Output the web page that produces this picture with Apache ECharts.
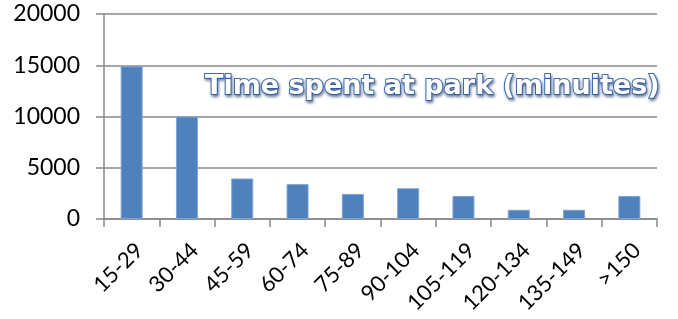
<!DOCTYPE html>
<html>
<head>
<meta charset="utf-8">
<script src="https://cdn.jsdelivr.net/npm/echarts@6/dist/echarts.min.js"></script>
<style>
  html, body { margin: 0; padding: 0; background: #fff; }
  #chart { width: 678px; height: 319px; }
</style>
</head>
<body>
<div id="chart"></div>
<script>
  // minutes spent at the park, grouped
  var categories = ['15-29', '30-44', '45-59', '60-74', '75-89', '90-104', '105-119', '120-134', '135-149', '>150'];
  var visitors = [14900, 10000, 3950, 3400, 2450, 3000, 2250, 900, 900, 2250];
  var yTicks = [0, 5000, 10000, 15000, 20000];

  var chart = echarts.init(document.getElementById('chart'));
  var option = {
    animation: false,
    title: {
      text: 'Time spent at park (minuites)',
      left: 200,
      top: 68,
      textStyle: {
        fontFamily: 'DejaVu Sans',
        fontSize: 27,
        fontWeight: 'bold',
        color: '#ffffff',
        textBorderColor: '#3f6fb0',
        textBorderWidth: 2,
        textShadowColor: 'rgba(40,70,120,0.6)',
        textShadowBlur: 3,
        textShadowOffsetX: 1,
        textShadowOffsetY: 2
      }
    },
    grid: {
      left: 104,
      right: 21,
      top: 14,
      bottom: 100,
      outerBoundsMode: 'none'
    },
    xAxis: {
      type: 'category',
      data: categories,
      axisLine: { lineStyle: { color: '#888', width: 1.5 } },
      axisTick: { show: true, length: 8, lineStyle: { color: '#888', width: 1.5 } },
      axisLabel: {
        rotate: 45,
        margin: 20,
        verticalAlign: 'top',
        lineHeight: 22,
        fontFamily: 'Lato',
        fontSize: 22,
        color: '#000'
      }
    },
    yAxis: {
      type: 'value',
      min: yTicks[0],
      max: yTicks[yTicks.length - 1],
      interval: 5000,
      axisLine: { show: true, lineStyle: { color: '#888', width: 1.5 } },
      axisTick: { show: true, length: 8, lineStyle: { color: '#888', width: 1.5 } },
      splitLine: { lineStyle: { color: '#888', width: 1.5 } },
      axisLabel: {
        margin: 24,
        fontFamily: 'Lato',
        fontSize: 23,
        color: '#000',
        formatter: function (v) { return String(v); }
      }
    },
    series: [{
      type: 'bar',
      data: visitors,
      barWidth: 22,
      itemStyle: {
        color: '#4f81bd',
        borderColor: '#7ea3d3',
        borderWidth: 1
      }
    }]
  };
  chart.setOption(option, true);
  window.addEventListener('resize', function () {
    chart.resize();
  });
</script>
</body>
</html>
